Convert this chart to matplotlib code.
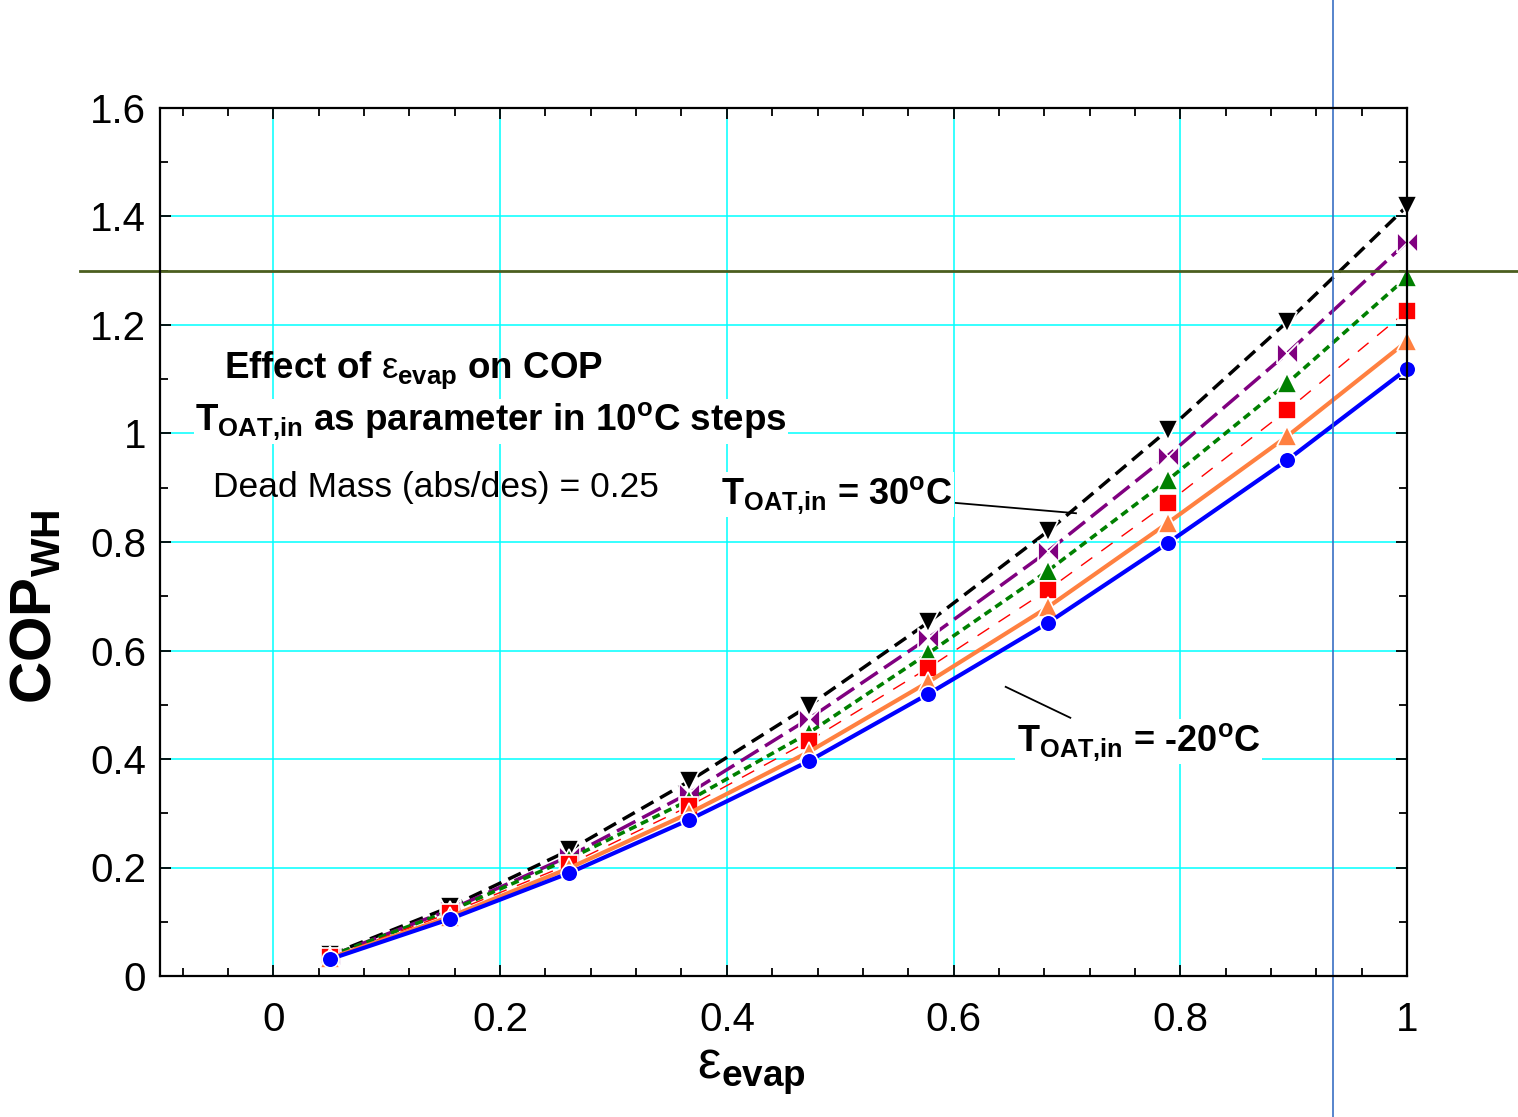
import numpy as np
import matplotlib
matplotlib.use("Agg")
from matplotlib import pyplot as plt
from matplotlib.ticker import MultipleLocator, FuncFormatter

plt.rcParams['font.family'] = ['Liberation Sans', 'DejaVu Sans']
plt.rcParams['mathtext.fontset'] = 'custom'
plt.rcParams['mathtext.rm'] = 'Liberation Sans'
plt.rcParams['mathtext.it'] = 'Liberation Sans'
plt.rcParams['mathtext.bf'] = 'Liberation Sans:bold'

## data
eps_evap = [0.05, 0.1556, 0.2611, 0.3667, 0.4722, 0.5778, 0.6833, 0.7889, 0.8944, 1.0]
cop_m20 = [0.031, 0.105, 0.190, 0.288, 0.396, 0.520, 0.651, 0.798, 0.951, 1.119]
cop_m10 = [0.033, 0.109, 0.199, 0.300, 0.413, 0.542, 0.680, 0.835, 0.995, 1.170]
cop_0 = [0.035, 0.116, 0.206, 0.313, 0.433, 0.568, 0.712, 0.872, 1.043, 1.226]
cop_10 = [0.037, 0.120, 0.216, 0.324, 0.448, 0.595, 0.747, 0.914, 1.093, 1.288]
cop_20 = [0.037, 0.122, 0.221, 0.337, 0.474, 0.623, 0.783, 0.959, 1.148, 1.353]
cop_30 = [0.039, 0.127, 0.232, 0.359, 0.498, 0.652, 0.820, 1.006, 1.206, 1.419]

h_ref = 1.3
v_ref = 0.935

## bow-tie marker for the 20 C curve
bowtie = [(-1, -1), (-1, 1), (0, 0), (1, 1), (1, -1), (0, 0), (-1, -1)]

fig = plt.figure(figsize=(15.18, 11.17), dpi=100)
ax = fig.add_axes([160/1518, 141/1117, 1247/1518, 868/1117])

mk = dict(markeredgecolor='white', markeredgewidth=1.2, clip_on=False)
ax.plot(eps_evap, cop_30, color='black', lw=2.5, dashes=(4, 2.2), marker='v', markersize=15, **mk)
ax.plot(eps_evap, cop_20, color='#800080', lw=2.5, dashes=(6, 2.2), marker=bowtie, markersize=15, **mk)
ax.plot(eps_evap, cop_10, color='#008000', lw=2.6, dashes=(2.2, 1.4), marker='^', markersize=15, **mk)
ax.plot(eps_evap, cop_0, color='#FF0000', lw=1.0, dashes=(10, 8), marker='s', markersize=13, **mk)
ax.plot(eps_evap, cop_m10, color='#FF8040', lw=3, marker='^', markersize=15, **mk)
ax.plot(eps_evap, cop_m20, color='#0000FF', lw=3, marker='o', markersize=12, **mk)

ax.set_xlim(-0.1, 1.0)
ax.set_ylim(0, 1.6)
ax.xaxis.set_major_locator(MultipleLocator(0.2))
ax.xaxis.set_minor_locator(MultipleLocator(0.04))
ax.yaxis.set_major_locator(MultipleLocator(0.2))
ax.yaxis.set_minor_locator(MultipleLocator(0.1))
fmt = FuncFormatter(lambda v, p: '%g' % round(v, 3))
ax.xaxis.set_major_formatter(fmt)
ax.yaxis.set_major_formatter(fmt)
ax.grid(True, which='major', color='#00FFFF', lw=1.1)
ax.set_axisbelow(True)
ax.tick_params(which='both', direction='in', top=True, right=True, width=1.3, labelsize=29)
ax.tick_params(which='major', length=8)
ax.tick_params(which='minor', length=6)
ax.tick_params(axis='x', pad=18)
ax.tick_params(axis='y', pad=10)
for s in ax.spines.values():
    s.set_linewidth(1.6)

ax.set_xlabel(r'$\varepsilon$$_{\mathbf{evap}}$', fontsize=38)
ax.xaxis.set_label_coords(0.474, -0.082)
ax.set_ylabel(r'COP$_{\mathbf{WH}}$', fontsize=42, fontweight='bold')
ax.yaxis.set_label_coords(-0.078, 0.425)

## reference lines that run off the plot
ax.axhline(h_ref, xmin=-0.064, xmax=1.09, color='#4B5E1E', lw=2.0, clip_on=False)
ax.axvline(v_ref, ymin=-0.17, ymax=1.13, color='#3A6FC4', lw=1.2, clip_on=False)

box = dict(facecolor='white', edgecolor='none', pad=1)
ax.text(0.124, 1.117, r'Effect of $\varepsilon_{\mathbf{evap}}$ on COP', fontweight='bold',
        fontsize=26.5, ha='center', va='center')
ax.text(0.192, 1.022, r'T$_{\mathbf{OAT{,}in}}$ as parameter in 10$^{\mathbf{o}}$C steps',
        fontweight='bold', fontsize=26.5, ha='center', va='center', bbox=box)
ax.text(0.1435, 0.901, 'Dead Mass (abs/des) = 0.25', fontsize=25.5, ha='center', va='center')
ax.text(0.497, 0.887, r'T$_{\mathbf{OAT{,}in}}$ = 30$^{\mathbf{o}}$C', fontweight='bold',
        fontsize=26, ha='center', va='center', bbox=box)
ax.text(0.763, 0.432, r'T$_{\mathbf{OAT{,}in}}$ = -20$^{\mathbf{o}}$C', fontweight='bold',
        fontsize=26, ha='center', va='center', bbox=box)
ax.plot([0.602, 0.708], [0.872, 0.853], color='black', lw=1.3)
ax.plot([0.646, 0.703], [0.533, 0.476], color='black', lw=1.3)

fig.savefig('out.png', dpi=100)
